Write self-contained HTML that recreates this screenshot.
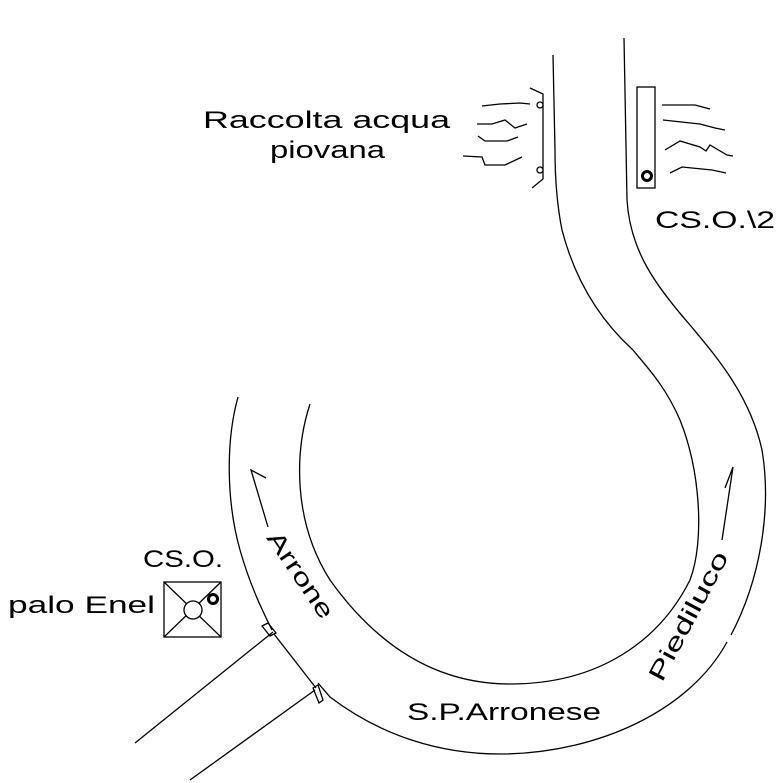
<!DOCTYPE html>
<html><head><meta charset="utf-8"><style>
html,body{margin:0;padding:0;background:#fff;}
svg{display:block;}
text{font-family:"Liberation Sans",sans-serif;fill:#000;font-weight:normal;}
</style></head><body>
<svg width="781" height="783" viewBox="0 0 781 783" xmlns="http://www.w3.org/2000/svg">
<g fill="none" stroke="#000" stroke-width="1.3">
<!-- outer road edge -->
<path d="M238,397 C226,440 226,500 240,550 C250,585 262,610 272,630"/>
<path d="M274,634 L316,688"/>
<path d="M318,683 L330,697 C380,735 440,755 505,754 C600,752 690,710 727,642"/>
<path d="M731,635 C760,580 772,510 762,450 C750,395 715,355 690,325 C655,285 630,250 627,200 L624,38"/>
<!-- inner road edge -->
<path d="M310,404 C295,450 292,520 330,580 C380,650 440,684 510,684 C600,684 660,640 690,580 C705,540 700,470 680,420 C665,385 645,365 633,350 C600,320 575,280 562,230 C556,200 555,170 555,150 L553,55"/>
<!-- side roads -->
<path d="M135,743 L273,632"/>
<path d="M190,780 L315,690"/>
<path d="M262,626 L268,623 L276,633 L270,636 Z"/>
<path d="M313,688 L318,685 L323,700 L319,703 Z"/>
<!-- arrows -->
<path d="M268,527 L251,470 L266,478"/>
<path d="M722,540 L733,467 L725,488"/>
<!-- palo box -->
<rect x="164" y="582" width="57" height="55"/>
<path d="M164,582 L221,637 M221,582 L164,637"/>
<circle cx="193" cy="610" r="9" fill="#fff"/>
<!-- CSO 2 -->
<rect x="637" y="87" width="18" height="101"/>
<!-- left drain -->
<path d="M530,88 L543,94 L543,179 L532,188"/>
<circle cx="540" cy="105" r="3" fill="#fff"/>
<circle cx="540" cy="170" r="3" fill="#fff"/>
<!-- squiggles left -->
<path d="M482,106 L500,104 L520,103 L530,104"/>
<path d="M477,124 L492,124 L505,120 L515,128 L527,124"/>
<path d="M478,136 L485,141 L507,141 L518,137"/>
<path d="M463,156 L482,157 L485,165 L505,165 L522,157"/>
<!-- squiggles right -->
<path d="M662,105 L695,105 L710,109"/>
<path d="M663,120 L700,124 L715,128 L725,130"/>
<path d="M665,150 L680,141 L700,147 L706,151 L710,145 L727,155 L733,156"/>
<path d="M670,173 L682,167 L712,170 L726,173"/>
</g>
<circle cx="213" cy="599" r="4.5" fill="none" stroke="#000" stroke-width="3"/>
<circle cx="647" cy="176" r="4.5" fill="none" stroke="#000" stroke-width="3"/>
<g font-size="24">
<text x="203" y="128" textLength="247" lengthAdjust="spacingAndGlyphs">Raccolta acqua</text>
<text x="270" y="158" textLength="115" lengthAdjust="spacingAndGlyphs">piovana</text>
<text x="655" y="228" textLength="120" lengthAdjust="spacingAndGlyphs">CS.O.\2</text>
<text x="143" y="567" textLength="80" lengthAdjust="spacingAndGlyphs">CS.O.</text>
<text x="8" y="613" textLength="147" lengthAdjust="spacingAndGlyphs">palo Enel</text>
<text x="407" y="720" textLength="194" lengthAdjust="spacingAndGlyphs">S.P.Arronese</text>
<text transform="translate(266,538) rotate(56)" textLength="100" lengthAdjust="spacingAndGlyphs">Arrone</text>
<text transform="translate(662,683) rotate(-62)" textLength="143" lengthAdjust="spacingAndGlyphs">Piediluco</text>
</g>
</svg>
</body></html>
